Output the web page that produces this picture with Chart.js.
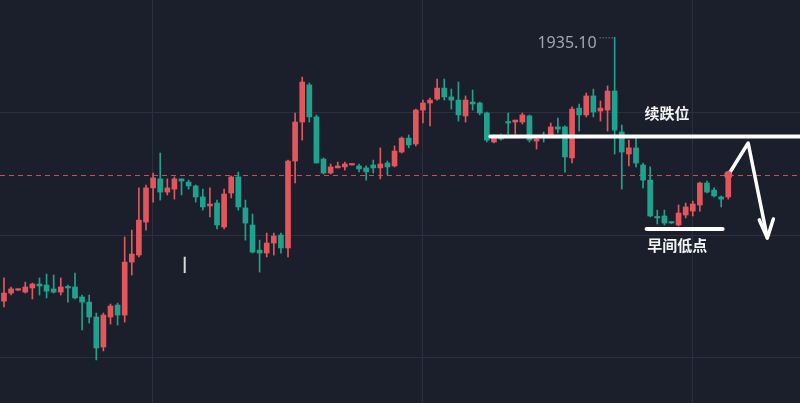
<!DOCTYPE html>
<html>
<head>
<meta charset="utf-8">
<script src="https://cdn.jsdelivr.net/npm/chart.js@4.4.1/dist/chart.umd.min.js"></script>
<style>
  html, body { margin: 0; padding: 0; background: #1b1f2c; }
  #wrap { width: 800px; height: 403px; position: relative; }
</style>
</head>
<body>
<div id="wrap"><canvas id="kline"></canvas></div>
<script>
// OHLC values, one candle per index
const opens = [1924.29,1924.62,1924.74,1924.66,1924.83,1924.99,1924.95,1924.79,1924.66,1924.87,
  1924.87,1924.46,1924.25,1923.64,1922.41,1923.64,1924.13,1923.72,1925.89,1926.18,
  1927.53,1928.93,1929.30,1928.76,1928.88,1929.30,1929.17,1929.01,1928.56,1928.19,
  1928.31,1927.33,1928.72,1929.38,1928.11,1927.41,1926.38,1926.26,1926.67,1927.00,
  1926.47,1930.03,1931.63,1933.15,1931.84,1930.11,1929.54,1929.75,1929.79,1929.87,
  1929.83,1929.75,1929.87,1929.75,1929.95,1929.83,1930.40,1930.97,1930.73,1932.12,
  1932.41,1932.57,1933.02,1932.66,1932.53,1931.88,1932.45,1932.41,1932.00,1930.81,
  1931.06,1931.63,1931.63,1931.63,1931.88,1930.85,1931.10,1931.10,1931.43,1931.43,
  1930.16,1932.20,1931.92,1932.70,1932.08,1932.12,1932.90,1931.22,1930.32,1930.57,
  1929.87,1929.25,1927.74,1927.78,1927.51,1927.41,1927.82,1927.98,1928.23,1929.13,
  1928.84,1928.56,1928.56];
const highs = [1925.24,1924.87,1924.78,1925.07,1925.03,1925.24,1925.40,1925.36,1925.24,1924.95,
  1925.44,1924.54,1924.54,1923.80,1923.80,1924.17,1924.21,1926.92,1927.20,1928.93,
  1929.05,1929.54,1930.36,1929.30,1929.38,1929.30,1929.25,1929.05,1928.88,1928.93,
  1928.43,1928.88,1929.42,1929.58,1928.43,1927.86,1926.79,1927.08,1927.08,1927.08,
  1930.07,1932.00,1933.47,1933.23,1931.92,1930.16,1929.91,1929.99,1929.99,1929.91,
  1929.91,1929.83,1930.07,1930.57,1930.03,1930.65,1931.02,1931.10,1932.16,1932.53,
  1932.61,1933.39,1933.39,1932.98,1933.27,1932.70,1932.94,1932.45,1932.04,1931.10,
  1931.14,1932.00,1931.71,1932.00,1931.92,1930.97,1931.22,1931.59,1931.79,1931.47,
  1932.25,1932.37,1932.82,1932.98,1932.49,1933.11,1935.10,1931.51,1930.89,1930.97,
  1929.95,1929.79,1928.02,1928.02,1927.53,1928.23,1928.31,1928.39,1929.17,1929.21,
  1928.93,1928.60,1929.54];
const lows = [1924.05,1924.54,1924.72,1924.62,1924.38,1924.54,1924.42,1924.62,1924.54,1924.25,
  1924.38,1923.11,1923.39,1921.88,1922.25,1923.35,1923.31,1923.43,1925.36,1926.10,
  1927.20,1928.35,1928.43,1928.64,1928.47,1928.64,1928.88,1928.35,1928.02,1927.74,
  1927.25,1927.25,1928.52,1928.02,1926.79,1926.26,1925.48,1926.10,1926.18,1926.26,
  1926.10,1929.13,1930.89,1931.63,1929.95,1929.50,1929.50,1929.75,1929.66,1929.87,
  1929.59,1929.25,1929.54,1929.30,1929.46,1929.79,1930.36,1930.57,1930.65,1931.59,
  1931.47,1932.53,1932.53,1932.16,1931.67,1931.63,1932.12,1931.92,1930.81,1930.77,
  1930.89,1931.14,1931.14,1931.55,1930.81,1930.52,1930.81,1931.02,1931.18,1929.58,
  1929.95,1931.26,1931.84,1931.84,1931.67,1931.26,1930.32,1928.88,1929.83,1929.79,
  1928.93,1927.74,1927.45,1927.41,1927.47,1927.37,1927.70,1927.78,1927.98,1928.72,
  1928.56,1928.15,1928.47];
const closes = [1924.62,1924.79,1924.76,1924.87,1924.99,1924.91,1924.70,1924.66,1924.87,1924.83,
  1924.42,1924.25,1923.64,1922.37,1923.72,1924.09,1923.72,1925.89,1926.22,1927.61,
  1928.93,1929.34,1928.76,1928.93,1929.30,1929.21,1929.01,1928.56,1928.15,1928.27,
  1927.41,1928.68,1929.38,1928.15,1927.49,1926.30,1926.26,1926.67,1926.96,1926.47,
  1930.03,1931.63,1933.27,1931.84,1929.95,1929.54,1929.79,1929.83,1929.91,1929.91,
  1929.71,1929.59,1929.75,1929.91,1929.79,1930.44,1930.97,1930.69,1932.12,1932.41,
  1932.53,1933.02,1932.66,1932.53,1931.92,1932.53,1932.37,1932.00,1930.89,1931.02,
  1930.93,1931.59,1931.71,1931.92,1930.89,1930.93,1931.02,1931.43,1931.34,1930.20,
  1932.16,1931.92,1932.70,1932.04,1932.20,1932.90,1931.30,1930.40,1930.57,1929.95,
  1929.25,1927.78,1927.70,1927.49,1927.49,1927.90,1928.15,1928.27,1929.13,1928.76,
  1928.60,1928.47,1929.46];

// grid lines
const priceGrid = [1922, 1927, 1932];
const timeGrid = [20.85, 59.0, 97.0];

// drawn marks on the picture
const highLabel = '1935.10';
const resistLevel = 1931.04;   // 续跌位
const morningLow = 1927.25;    // 早间低点

const UP = '#e3565c';
const DOWN = '#1fa28e';
const BG = '#1b1f2c';
const GRID = '#2a3040';

const colorOf = i => closes[i] >= opens[i] ? UP : DOWN;

const bodies = opens.map((o, i) => ({ x: i, y: [Math.min(o, closes[i]), Math.max(o, closes[i])] }));
const wicks = highs.map((h, i) => ({ x: i, y: [lows[i], h] }));

const bgPlugin = {
  id: 'bg',
  beforeDraw(chart) {
    const c = chart.ctx;
    c.save();
    c.fillStyle = BG;
    c.fillRect(0, 0, chart.width, chart.height);
    c.restore();
  }
};

const marksPlugin = {
  id: 'marks',
  beforeDatasetsDraw(chart) {
    // last price dashed line
    const c = chart.ctx, ys = chart.scales.y;
    const yl = Math.round(ys.getPixelForValue(closes[closes.length - 1])) + 0.5;
    c.save();
    c.strokeStyle = 'rgba(214,86,98,0.9)';
    c.lineWidth = 1;
    c.setLineDash([5, 4]);
    c.beginPath();
    c.moveTo(0, yl);
    c.lineTo(chart.width, yl);
    c.stroke();
    c.restore();
  },
  afterDatasetsDraw(chart) {
    const c = chart.ctx, xs = chart.scales.x, ys = chart.scales.y;
    const X = v => xs.getPixelForValue(v), Y = v => ys.getPixelForValue(v);
    c.save();

    // high marker
    const hi = highs.indexOf(Math.max(...highs));
    const hx = X(hi), hy = Y(highs[hi]);
    c.fillStyle = '#a3a6b0';
    c.font = '16px "Noto Sans", Roboto, sans-serif';
    c.textAlign = 'right';
    c.textBaseline = 'middle';
    c.fillText(highLabel, hx - 18, hy + 6);
    c.strokeStyle = '#a3a6b0';
    c.lineWidth = 1;
    c.setLineDash([1, 2]);
    c.beginPath();
    c.moveTo(hx - 15, hy + 0.5);
    c.lineTo(hx, hy + 0.5);
    c.stroke();
    c.setLineDash([]);

    // resistance line
    c.strokeStyle = '#ffffff';
    c.lineCap = 'round';
    c.lineWidth = 4;
    c.beginPath();
    c.moveTo(X(68.5), Y(resistLevel));
    c.lineTo(chart.width + 5, Y(resistLevel));
    c.stroke();

    // morning low line
    c.beginPath();
    c.moveTo(X(90.5), Y(morningLow));
    c.lineTo(X(101.2), Y(morningLow));
    c.stroke();

    // labels
    c.fillStyle = '#f2f2f2';
    c.font = 'bold 15px "Noto Sans CJK SC", sans-serif';
    c.textAlign = 'left';
    c.fillText('续跌位', X(90.2), Y(resistLevel) - 23);
    c.fillText('早间低点', X(90.6), Y(morningLow) + 16);

    // projected path arrow
    const last = closes.length - 1;
    const p0 = [X(last), Y(closes[last])];
    const p1 = [X(104.8), Y(1930.77)];
    const p2 = [X(107.5), Y(1926.88)];
    c.strokeStyle = '#ffffff';
    c.lineWidth = 3.5;
    c.lineJoin = 'round';
    c.beginPath();
    c.moveTo(p0[0], p0[1]);
    c.lineTo(p1[0], p1[1]);
    c.lineTo(p2[0], p2[1]);
    c.stroke();
    c.beginPath();
    c.moveTo(p2[0] - 8, p2[1] - 18);
    c.lineTo(p2[0], p2[1]);
    c.lineTo(p2[0] + 6, p2[1] - 19);
    c.stroke();

    // last candle dot
    c.fillStyle = UP;
    c.beginPath();
    c.arc(p0[0], p0[1], 4, 0, Math.PI * 2);
    c.fill();

    // small cursor tick
    c.strokeStyle = '#d8d8d8';
    c.lineWidth = 2;
    c.lineCap = 'butt';
    c.beginPath();
    c.moveTo(X(25.45), Y(1926.11));
    c.lineTo(X(25.45), Y(1925.44));
    c.stroke();

    c.restore();
  }
};

new Chart(document.getElementById('kline').getContext('2d'), {
  type: 'bar',
  data: {
    datasets: [{
      data: wicks,
      grouped: false,
      barThickness: 1,
      minBarLength: 1,
      backgroundColor: ctx => colorOf(ctx.dataIndex)
    }, {
      data: bodies,
      grouped: false,
      barThickness: 5,
      minBarLength: 1.5,
      backgroundColor: ctx => colorOf(ctx.dataIndex)
    }]
  },
  options: {
    responsive: true,
    maintainAspectRatio: false,
    animation: false,
    layout: { padding: 0 },
    plugins: { legend: { display: false }, tooltip: { enabled: false } },
    scales: {
      x: {
        type: 'linear',
        min: -0.56,
        max: 112.1,
        offset: false,
        afterBuildTicks: s => { s.ticks = timeGrid.map(v => ({ value: v })); },
        ticks: { display: false },
        grid: { color: GRID, drawTicks: false, offset: false },
        border: { display: false }
      },
      y: {
        min: 1920.115,
        max: 1936.631,
        afterBuildTicks: s => { s.ticks = priceGrid.map(v => ({ value: v })); },
        ticks: { display: false },
        grid: { color: GRID, drawTicks: false },
        border: { display: false }
      }
    }
  },
  plugins: [bgPlugin, marksPlugin]
});
</script>
</body>
</html>
